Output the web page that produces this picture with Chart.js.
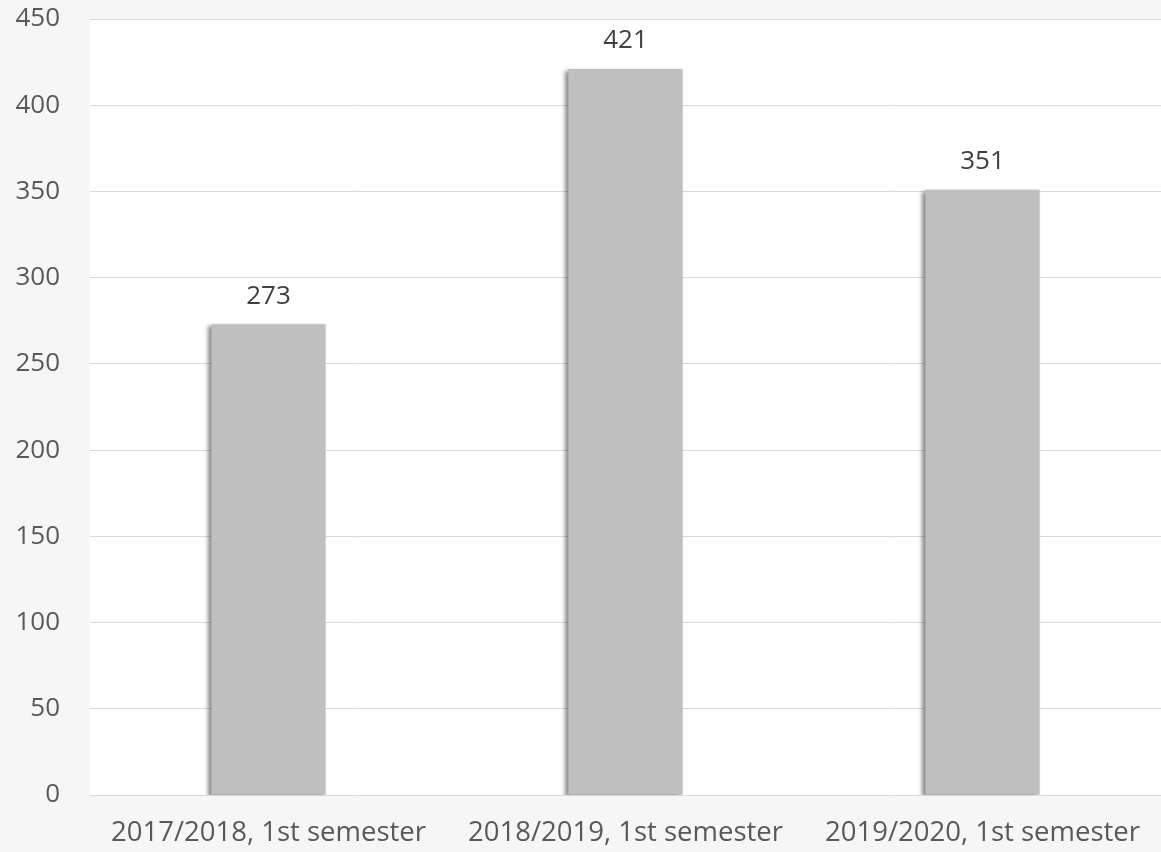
<!DOCTYPE html>
<html>
<head>
<meta charset="utf-8">
<script src="https://cdn.jsdelivr.net/npm/chart.js@4"></script>
<style>
html,body{margin:0;padding:0;background:#f6f6f6;}
canvas{display:block;}
</style>
</head>
<body>
<canvas id="c" width="1161" height="852"></canvas>
<script>
const categories = ["2017/2018, 1st semester", "2018/2019, 1st semester", "2019/2020, 1st semester"];
const values = [273, 421, 351];
const yTicks = [0, 50, 100, 150, 200, 250, 300, 350, 400, 450];

const FONT = "'Open Sans', sans-serif";

const plotBg = {
  id: 'plotBg',
  beforeDraw(chart) {
    const {ctx, chartArea: a} = chart;
    ctx.save();
    ctx.fillStyle = '#ffffff';
    ctx.fillRect(a.left, a.top, a.right - a.left, a.bottom - a.top);
    ctx.restore();
  }
};
const barShadow = {
  id: 'barShadow',
  beforeDatasetsDraw(chart) {
    const ctx = chart.ctx;
    ctx.save();
    ctx.shadowColor = 'rgba(0,0,0,0.45)';
    ctx.shadowOffsetX = -3;
    ctx.shadowOffsetY = 2;
    ctx.shadowBlur = 4;
  },
  afterDatasetsDraw(chart) {
    chart.ctx.restore();
    const ctx = chart.ctx;
    const meta = chart.getDatasetMeta(0);
    ctx.save();
    ctx.fillStyle = '#404040';
    ctx.font = '26px ' + FONT;
    ctx.textAlign = 'center';
    ctx.textBaseline = 'middle';
    meta.data.forEach((bar, i) => {
      ctx.fillText(String(values[i]), bar.x, bar.y - 28);
    });
    ctx.restore();
  }
};

new Chart(document.getElementById('c'), {
  type: 'bar',
  data: {
    labels: categories,
    datasets: [{
      data: values,
      backgroundColor: '#bfbfbf',
      borderWidth: 0,
      barPercentage: 0.64,
      categoryPercentage: 0.5
    }]
  },
  options: {
    responsive: false,
    animation: false,
    layout: { padding: { top: 19, right: 0, bottom: 0, left: 0 } },
    plugins: { legend: { display: false }, tooltip: { enabled: false } },
    scales: {
      x: {
        grid: { display: false, drawTicks: false },
        border: { display: false },
        ticks: { color: '#595959', font: { family: FONT, size: 27.5 }, padding: 22, maxRotation: 0, autoSkip: false },
        afterFit(s) { s.height = 57; s.paddingLeft = 0; s.paddingRight = 0; }
      },
      y: {
        min: 0, max: 450,
        afterBuildTicks(s) { s.ticks = yTicks.map(v => ({ value: v })); },
        grid: { color: '#d9d9d9', lineWidth: 1, drawTicks: false },
        border: { display: false },
        ticks: { color: '#595959', font: { family: FONT, size: 26 }, padding: 30 },
        afterFit(s) { s.width = 90; s.paddingTop = 0; s.paddingBottom = 0; }
      }
    }
  },
  plugins: [plotBg, barShadow]
});
</script>
</body>
</html>
